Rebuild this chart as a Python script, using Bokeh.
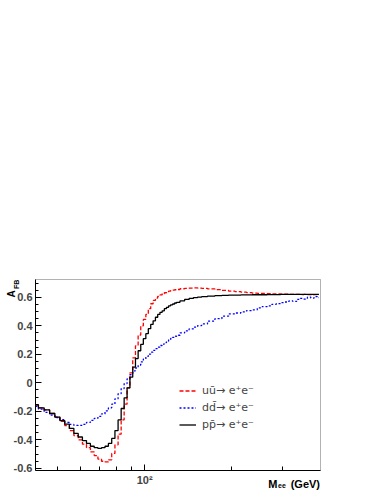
import math
import numpy as np
from bokeh.plotting import figure
from bokeh.models import FixedTicker, Legend, LegendItem, Label, Range1d, BoxAnnotation
from bokeh.embed import file_html
from bokeh.resources import INLINE

# ---------------- data ----------------
mass = [42, 44, 46, 48, 50, 52, 54, 56, 58, 60, 62, 64, 66, 68, 70, 72, 74, 76, 78, 80,
        82, 84, 86, 88, 90, 92, 94, 96, 98, 100, 102, 104, 106, 108, 110, 112, 114, 116, 118, 120,
        122, 124, 126, 128, 130, 135, 140, 145, 150, 155, 160, 170, 180, 190, 200, 210, 220, 230, 240, 250,
        260, 270, 280, 290, 300, 310, 320, 330, 340, 350, 360, 370, 380, 390, 400]

afb_pp = [-0.155, -0.175, -0.19, -0.215, -0.24, -0.265, -0.29, -0.32, -0.355, -0.38,
          -0.405, -0.425, -0.445, -0.455, -0.46, -0.455, -0.445, -0.425, -0.39, -0.335,
          -0.26, -0.18, -0.105, -0.035, 0.04, 0.11, 0.17, 0.225, 0.27, 0.31,
          0.345, 0.38, 0.41, 0.435, 0.46, 0.48, 0.495, 0.505, 0.52, 0.53,
          0.54, 0.547, 0.553, 0.56, 0.565, 0.575, 0.585, 0.592, 0.598, 0.602,
          0.605, 0.609, 0.612, 0.614, 0.615, 0.616, 0.617, 0.617, 0.618, 0.618,
          0.618, 0.619, 0.619, 0.619, 0.62, 0.62, 0.62, 0.62, 0.62, 0.62,
          0.62, 0.62, 0.621, 0.621, 0.62]

afb_uu = [-0.155, -0.175, -0.19, -0.215, -0.24, -0.27, -0.30, -0.335, -0.37, -0.40,
          -0.43, -0.455, -0.485, -0.51, -0.535, -0.55, -0.555, -0.54, -0.495, -0.435,
          -0.36, -0.26, -0.15, -0.035, 0.07, 0.175, 0.26, 0.335, 0.40, 0.445,
          0.48, 0.52, 0.555, 0.578, 0.595, 0.607, 0.617, 0.625, 0.632, 0.638,
          0.643, 0.647, 0.65, 0.653, 0.655, 0.66, 0.663, 0.665, 0.666, 0.665,
          0.663, 0.659, 0.654, 0.649, 0.644, 0.64, 0.636, 0.633, 0.63, 0.628,
          0.627, 0.626, 0.624, 0.624, 0.623, 0.622, 0.621, 0.62, 0.62, 0.619,
          0.62, 0.619, 0.618, 0.619, 0.618]

afb_dd = [-0.165, -0.185, -0.207, -0.227, -0.243, -0.258, -0.278, -0.292, -0.299, -0.298,
          -0.292, -0.278, -0.264, -0.25, -0.235, -0.218, -0.197, -0.175, -0.15, -0.112,
          -0.076, -0.04, -0.005, 0.028, 0.058, 0.084, 0.104, 0.125, 0.147, 0.167,
          0.185, 0.202, 0.215, 0.228, 0.24, 0.251, 0.262, 0.272, 0.282, 0.292,
          0.302, 0.311, 0.319, 0.327, 0.334, 0.35, 0.364, 0.379, 0.391, 0.402,
          0.413, 0.433, 0.45, 0.468, 0.484, 0.49, 0.498, 0.507, 0.512, 0.526,
          0.535, 0.54, 0.551, 0.556, 0.563, 0.567, 0.575, 0.571, 0.585, 0.592,
          0.588, 0.601, 0.595, 0.605, 0.598]

legend_labels = ["u\u016b\u2192 e\u207ae\u207b",
                 "dd\u0304\u2192 e\u207ae\u207b",
                 "pp\u0304\u2192 e\u207ae\u207b"]

y_ticks = [-0.6, -0.4, -0.2, 0.0, 0.2, 0.4, 0.6]
y_tick_labels = ["-0.6", "-0.4", "-0.2", "0", "0.2", "0.4", "0.6"]
x_major = [100]
x_major_labels = ["10\u00b2"]
x_minor = [50, 60, 70, 80, 90, 200, 300]

X_LO, X_HI = 42, 405          # visible axis extent
Y_LO, Y_HI = -0.615, 0.725

FONT = "Liberation Sans"
W, H = 375, 490
# inner (drawn) box in canvas pixels
BL, BR, BT, BB = 35, 320, 279, 470

# extend the frame to the whole canvas so that text outside the box is not clipped
lx0, lx1 = math.log10(X_LO), math.log10(X_HI)
kx = (lx1 - lx0) / (BR - BL)
ky = (Y_HI - Y_LO) / (BB - BT)
xr = Range1d(10 ** (lx0 - BL * kx), 10 ** (lx1 + (W - BR) * kx))
yr = Range1d(Y_LO - (H - BB) * ky, Y_HI + BT * ky)

p = figure(width=W, height=H, x_axis_type="log", x_range=xr, y_range=yr,
           output_backend="svg", toolbar_location=None,
           min_border=0, min_border_left=0, min_border_right=0, min_border_top=0, min_border_bottom=0)
p.grid.visible = False
p.outline_line_color = None
p.background_fill_color = "white"
p.border_fill_color = "white"

p.add_layout(BoxAnnotation(left=X_LO, right=X_HI, bottom=Y_LO, top=Y_HI,
                           fill_alpha=0, line_color="black", line_width=1))

r_uu = p.step(mass, afb_uu, mode="center", line_color="#ff0000", line_width=1.3, line_dash="4 2")
r_dd = p.step(mass, afb_dd, mode="center", line_color="#0000ff", line_width=1.3, line_dash="2 2")
r_pp = p.step(mass, afb_pp, mode="center", line_color="black", line_width=1.3)

# axes, pinned to the inner box
xa = p.xaxis[0]
xa.fixed_location = Y_LO
xa.bounds = (X_LO, X_HI)
xa.ticker = FixedTicker(ticks=x_major, minor_ticks=x_minor)
xa.major_label_overrides = {t: l for t, l in zip(x_major, x_major_labels)}
xa.major_tick_in = 6
xa.major_tick_out = 0
xa.minor_tick_in = 4
xa.minor_tick_out = 0
xa.major_label_standoff = 3
xa.major_label_text_font = FONT
xa.major_label_text_font_style = "bold"
xa.major_label_text_font_size = "11px"
xa.axis_line_color = "black"

ya = p.yaxis[0]
ya.fixed_location = X_LO
ya.bounds = (Y_LO, Y_HI)
ya.ticker = FixedTicker(ticks=y_ticks, minor_ticks=[float(v) for v in np.round(np.arange(-0.6, 0.72, 0.05), 2)])
ya.major_label_overrides = {t: l for t, l in zip(y_ticks, y_tick_labels)}
ya.major_tick_in = 6
ya.major_tick_out = 0
ya.minor_tick_in = 3
ya.minor_tick_out = 0
ya.major_label_standoff = 3
ya.major_label_text_font = FONT
ya.major_label_text_font_style = "bold"
ya.major_label_text_font_size = "11px"
ya.axis_line_color = "black"

# axis titles (screen units from the frame's bottom-left corner = canvas corner)
def lab(text, x, y, size, align="left", angle=0.0, style="bold"):
    p.add_layout(Label(x=x, y=y, x_units="screen", y_units="screen", text=text,
                       text_font=FONT, text_font_style=style, text_font_size=size,
                       text_align=align, text_baseline="alphabetic", angle=angle,
                       text_color="black"))

lab("A", 10.5, H - 297, "10px", angle=np.pi / 2)
lab("FB", 15.5, H - 288.5, "7px", angle=np.pi / 2)
lab("(GeV)", 319.5, H - 483, "11px", align="right")
lab("ee", 277.5, H - 485, "7px", align="left")
lab("M", 277, H - 483, "11px", align="right")

legend = Legend(items=[LegendItem(label=legend_labels[0], renderers=[r_uu]),
                       LegendItem(label=legend_labels[1], renderers=[r_dd]),
                       LegendItem(label=legend_labels[2], renderers=[r_pp])],
                location=(BL + 144, H - BB + 37), orientation="vertical",
                glyph_width=17, glyph_height=17, spacing=0, padding=0, margin=0,
                label_standoff=6, label_text_font="DejaVu Sans", label_text_font_size="11px",
                label_height=17, border_line_alpha=0, background_fill_alpha=0)
p.add_layout(legend)

open("out.html", "w").write(file_html(p, INLINE))
